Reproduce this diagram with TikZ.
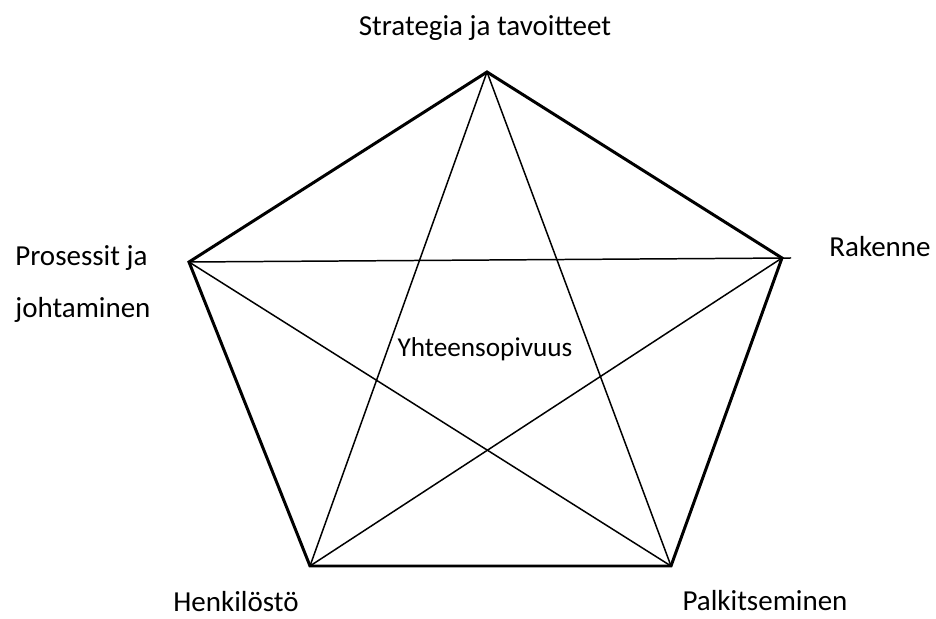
\documentclass[tikz,border=0pt]{standalone}
\usepackage{fontspec}
\setmainfont{Carlito}
\usepackage{tikz}
\usetikzlibrary{positioning, calc}

\tikzset{
  edgeline/.style={line width=1.7pt, line join=miter},
  starline/.style={line width=0.85pt},
  cornerlabel/.style={font=\fontsize{16.5}{20}\selectfont, anchor=base, inner sep=0pt},
}

\begin{document}
\begin{tikzpicture}[x=0.2mm, y=-0.2mm]
  \useasboundingbox (0,0) rectangle (936,619);

  % corners of the pentagon
  \coordinate (strat) at (487,72);
  \coordinate (rak) at (782,258);
  \coordinate (palk) at (671,566);
  \coordinate (henk) at (310,566);
  \coordinate (pros) at (189,262);
  \coordinate (rakend) at (791,258);

  % star inside
  \draw[starline] (strat) -- (palk);
  \draw[starline] (strat) -- (henk);
  \draw[starline] (pros) -- (rakend);
  \draw[starline] (pros) -- (palk);
  \draw[starline] (rak) -- (henk);

  % outer edges
  \draw[edgeline] (strat) -- (rak) -- (palk) -- (henk) -- (pros) -- cycle;

  % labels
  \node[cornerlabel] (tstrat) at (485,36) {Strategia ja tavoitteet};
  \node[cornerlabel] (trak) at (880,257) {Rakenne};
  \node[cornerlabel, anchor=base west] (tpros) at (15,266) {Prosessit ja};
  \node[cornerlabel, anchor=base west] (tjoht) at (15,318) {johtaminen};
  \node[cornerlabel] (thenk) at (236,612) {Henkilöstö};
  \node[cornerlabel] (tpalk) at (765,611) {Palkitseminen};
  \node[font=\fontsize{15.5}{18}\selectfont, anchor=base, inner sep=0pt] (tyht) at (485,357) {Yhteensopivuus};
\end{tikzpicture}
\end{document}
